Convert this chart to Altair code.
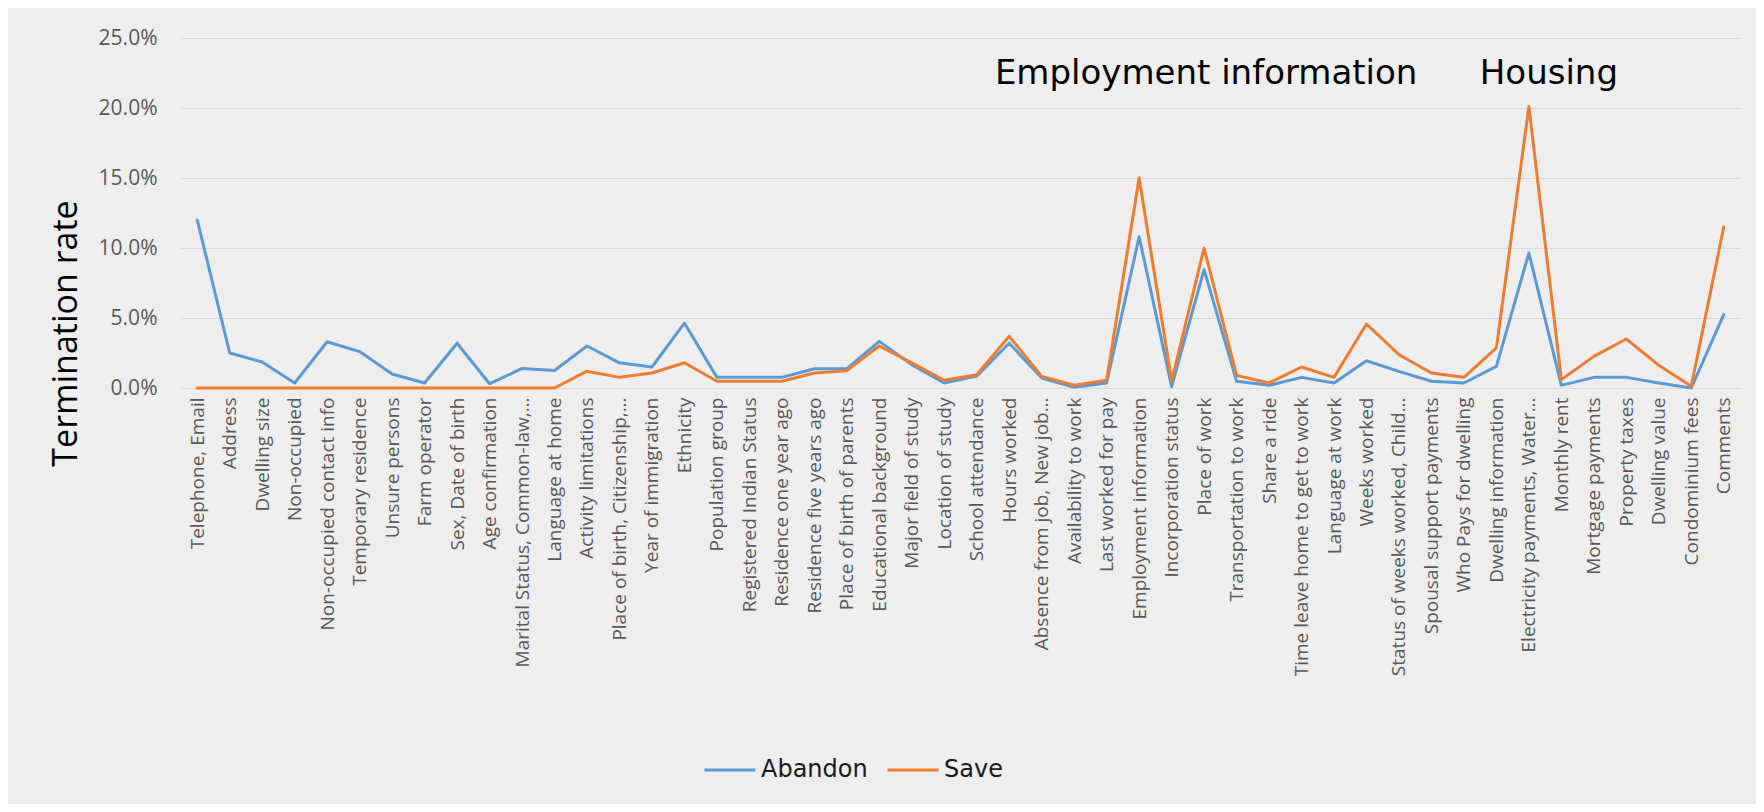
import altair as alt
import pandas as pd

categories = [
    "Telephone, Email", "Address", "Dwelling size", "Non-occupied",
    "Non-occupied contact info", "Temporary residence", "Unsure persons",
    "Farm operator", "Sex, Date of birth", "Age confirmation",
    "Marital Status, Common-law,…", "Language at home", "Activity limitations",
    "Place of birth, Citizenship,…", "Year of immigration", "Ethnicity",
    "Population group", "Registered Indian Status", "Residence one year ago",
    "Residence five years ago", "Place of birth of parents",
    "Educational background", "Major field of study", "Location of study",
    "School attendance", "Hours worked", "Absence from job, New job…",
    "Availability to work", "Last worked for pay", "Employment information",
    "Incorporation status", "Place of work", "Transportation to work",
    "Share a ride", "Time leave home to get to work", "Language at work",
    "Weeks worked", "Status of weeks worked, Child…",
    "Spousal support payments", "Who Pays for dwelling",
    "Dwelling information", "Electricity payments, Water…", "Monthly rent",
    "Mortgage payments", "Property taxes", "Dwelling value",
    "Condominium fees", "Comments",
]

# termination rate in percent
abandon = [
    12.0, 2.5, 1.86, 0.36, 3.3, 2.6, 1.0, 0.36, 3.2, 0.3,
    1.4, 1.25, 3.0, 1.8, 1.5, 4.64, 0.76, 0.76, 0.76, 1.38,
    1.38, 3.33, 1.67, 0.36, 0.85, 3.2, 0.71, 0.05, 0.36, 10.8,
    0.1, 8.45, 0.48, 0.19, 0.76, 0.36, 1.95, 1.19, 0.48, 0.36,
    1.55, 9.64, 0.19, 0.76, 0.76, 0.36, 0.0, 5.24,
]
save = [
    0.0, 0.0, 0.0, 0.0, 0.0, 0.0, 0.0, 0.0, 0.0, 0.0,
    0.0, 0.0, 1.2, 0.76, 1.07, 1.8, 0.48, 0.48, 0.48, 1.07,
    1.24, 3.0, 1.8, 0.55, 0.95, 3.7, 0.83, 0.2, 0.55, 15.0,
    0.5, 10.0, 0.9, 0.36, 1.5, 0.76, 4.57, 2.38, 1.07, 0.76,
    2.86, 20.1, 0.6, 2.26, 3.5, 1.62, 0.12, 11.5,
]
series_names = ["Abandon", "Save"]
series_colors = ["#5b9bd5", "#ed7d31"]
y_ticks = [0.0, 0.05, 0.10, 0.15, 0.20, 0.25]

rows = []
for i, (c, a, s) in enumerate(zip(categories, abandon, save)):
    rows.append({"cat": c, "idx": i, "series": "Abandon", "rate": a / 100})
    rows.append({"cat": c, "idx": i, "series": "Save", "rate": s / 100})
df = pd.DataFrame(rows)

label_font = "Open Sans"
grey = "#595959"

x_enc = alt.X(
    "cat:N",
    sort=categories,
    scale=alt.Scale(type="point", padding=0.5, domain=categories),
    axis=alt.Axis(
        title=None, labelAngle=-90, labelFont=label_font, labelFontSize=19,
        labelColor=grey, labelLimit=400, labelPadding=9, ticks=False,
        domainColor="#d9d9d9", grid=False, labelOverlap=False,
    ),
)

lines = alt.Chart(df).mark_line(strokeWidth=3, strokeCap="round", strokeJoin="round").encode(
    x=x_enc,
    y=alt.Y(
        "rate:Q",
        scale=alt.Scale(domain=[0, 0.25], nice=False),
        axis=alt.Axis(
            values=y_ticks, format=".1%", title="Termination rate",
            labelFont=label_font, labelFontSize=21, labelColor=grey,
            labelPadding=24, ticks=False, domain=False,
            gridColor="#d9d9d9", gridWidth=1,
            titleFont=label_font, titleFontSize=34, titleFontWeight="normal",
            titleColor="#000000", titleX=-115, titleY=295,
            titleAlign="center", titleBaseline="middle", titleAngle=270,
        ),
    ),
    color=alt.Color(
        "series:N",
        scale=alt.Scale(domain=series_names, range=series_colors),
        legend=alt.Legend(
            title=None, orient="none", legendX=522, legendY=705,
            direction="horizontal", symbolType="stroke", symbolStrokeWidth=3,
            symbolSize=2600, labelFont="DejaVu Sans", labelFontSize=24,
            labelColor="#1a1a1a", columnPadding=13, labelOffset=4,
        ),
    ),
    order=alt.Order("idx:Q"),
)

emp = alt.Chart(pd.DataFrame({"cat": ["Employment information"], "label": ["Employment information"]})).mark_text(
    font="DejaVu Sans", fontSize=34, color="#000000", dx=67, baseline="middle", align="center"
).encode(x=alt.X("cat:N", sort=categories), y=alt.value(36), text="label:N")

hous = alt.Chart(pd.DataFrame({"cat": ["Electricity payments, Water…"], "label": ["Housing"]})).mark_text(
    font="DejaVu Sans", fontSize=34, color="#000000", dx=20, baseline="middle", align="center"
).encode(x=alt.X("cat:N", sort=categories), y=alt.value(36), text="label:N")

chart = alt.layer(lines, emp, hous).properties(
    width=1559, height=350,
    autosize=alt.AutoSizeParams(type="none"),
    padding={"left": 173, "top": 30, "right": 16, "bottom": 416},
    background="#eeeeee",
).configure_view(stroke=None)

chart.save("out.html", embed_options={"renderer": "svg", "actions": False})
